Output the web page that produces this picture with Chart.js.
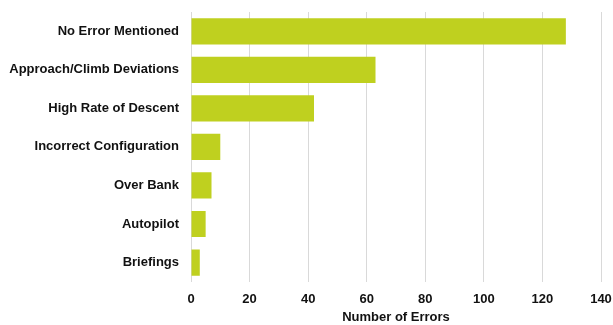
<!DOCTYPE html>
<html>
<head>
<meta charset="utf-8">
<script src="https://cdn.jsdelivr.net/npm/chart.js@4"></script>
<style>
  html, body { margin: 0; padding: 0; background: #fff; }
  #wrap { width: 613px; height: 325px; }
</style>
</head>
<body>
<div id="wrap"><canvas id="chart" width="613" height="325"></canvas></div>
<script>
// dados do gráfico
const categories = ['No Error Mentioned', 'Approach/Climb Deviations', 'High Rate of Descent',
    'Incorrect Configuration', 'Over Bank', 'Autopilot', 'Briefings'];
const errorCounts = [128, 63, 42, 10, 7, 5, 3];
const xTicks = [0, 20, 40, 60, 80, 100, 120, 140];

const ctx = document.getElementById('chart').getContext('2d');
new Chart(ctx, {
    type: 'bar',
    data: {
        labels: categories,
        datasets: [{
            label: 'Number of Errors',
            data: errorCounts,
            backgroundColor: '#bfd01f',
            borderWidth: 0,
            barPercentage: 0.68,
            categoryPercentage: 1.0
        }]
    },
    options: {
        indexAxis: 'y',
        responsive: false,
        animation: false,
        layout: { padding: { top: 12, right: 12, left: 0, bottom: 0 } },
        plugins: {
            legend: { display: false },
            tooltip: { enabled: false }
        },
        scales: {
            x: {
                min: 0,
                max: 140,
                afterBuildTicks: function (scale) {
                    scale.ticks = xTicks.map(v => ({ value: v }));
                },
                afterFit: function (scale) {
                    scale.paddingRight = 0;
                    scale.paddingLeft = 0;
                },
                grid: { color: '#d9d9d9', lineWidth: 1, drawTicks: false },
                border: { display: false },
                ticks: {
                    color: '#111',
                    padding: 10,
                    font: { family: 'Liberation Sans, Arial', size: 13, weight: 'bold' }
                },
                title: {
                    display: true,
                    text: 'Number of Errors',
                    color: '#111',
                    padding: { top: -8, bottom: 0 },
                    font: { family: 'Liberation Sans, Arial', size: 13, weight: 'bold' }
                }
            },
            y: {
                grid: { display: false, drawTicks: false },
                border: { display: true, color: '#d9d9d9', width: 1 },
                afterFit: function (scale) {
                    scale.width = 191;
                    scale.paddingTop = 0;
                    scale.paddingBottom = 0;
                },
                ticks: {
                    color: '#111',
                    padding: 12,
                    font: { family: 'Liberation Sans, Arial', size: 13, weight: 'bold' }
                }
            }
        }
    }
});
</script>
</body>
</html>
